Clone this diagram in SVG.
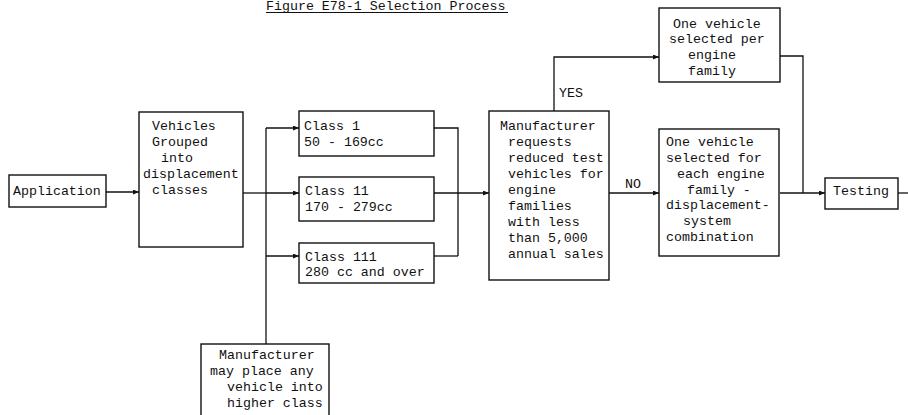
<svg xmlns="http://www.w3.org/2000/svg" width="908" height="415" viewBox="0 0 908 415">
<style>
  .box { fill: #ffffff; stroke: #111111; stroke-width: 1.4; }
  .t { font-family: "Liberation Mono", "Courier New", monospace; font-size: 13.3px; fill: #111111; }
  .c { fill: none; stroke: #111111; stroke-width: 1.3; }
</style>
<defs>
  <marker id="arr" markerUnits="userSpaceOnUse" markerWidth="7" markerHeight="6" refX="6" refY="2.5" orient="auto">
    <path d="M0,0 L6,2.5 L0,5 z" fill="#111111"/>
  </marker>
</defs>
<rect width="908" height="415" fill="#ffffff"/>

<g id="title">
  <text class="t" x="266" y="10">Figure E78-1 Selection Process</text>
  <line x1="266" y1="12.5" x2="508" y2="12.5" stroke="#111111" stroke-width="1.2"/>
</g>

<g id="connectors">
  <path class="c" d="M106,192 H139" marker-end="url(#arr)"/>
  <path class="c" d="M243,193 H266"/>
  <path class="c" d="M266,128 V344"/>
  <path class="c" d="M266,128 H299" marker-end="url(#arr)"/>
  <path class="c" d="M266,193 H299" marker-end="url(#arr)"/>
  <path class="c" d="M266,256 H299" marker-end="url(#arr)"/>
  <path class="c" d="M434,128 H458 V256"/>
  <path class="c" d="M434,256 H458"/>
  <path class="c" d="M434,193 H489" marker-end="url(#arr)"/>
  <path class="c" d="M554,111 V57 H659" marker-end="url(#arr)"/>
  <path class="c" d="M609,193 H659" marker-end="url(#arr)"/>
  <path class="c" d="M780,56 H803 V193"/>
  <path class="c" d="M780,193 H825" marker-end="url(#arr)"/>
  <path class="c" d="M898,193 H908"/>
  <text class="t" x="559" y="97">YES</text>
  <text class="t" x="625" y="188">NO</text>
</g>

<g id="application">
  <rect class="box" x="9" y="175" width="97" height="32"/>
  <text class="t" x="13" y="195">Application</text>
</g>

<g id="vehicles-grouped">
  <rect class="box" x="139" y="112" width="104" height="135"/>
  <text class="t" x="152" y="130">Vehicles</text>
  <text class="t" x="152" y="146">Grouped</text>
  <text class="t" x="161" y="162">into</text>
  <text class="t" x="143" y="178">displacement</text>
  <text class="t" x="152" y="194">classes</text>
</g>

<g id="class-1">
  <rect class="box" x="299" y="111" width="135" height="45"/>
  <text class="t" x="304" y="130">Class 1</text>
  <text class="t" x="304" y="146">50 - 169cc</text>
</g>

<g id="class-11">
  <rect class="box" x="299" y="177" width="135" height="44"/>
  <text class="t" x="305" y="195">Class 11</text>
  <text class="t" x="305" y="211">170 - 279cc</text>
</g>

<g id="class-111">
  <rect class="box" x="299" y="243" width="135" height="40"/>
  <text class="t" x="305" y="261">Class 111</text>
  <text class="t" x="305" y="276">280 cc and over</text>
</g>

<g id="manufacturer-requests">
  <rect class="box" x="489" y="111" width="120" height="169"/>
  <text class="t" x="500" y="130">Manufacturer</text>
  <text class="t" x="508" y="146">requests</text>
  <text class="t" x="508" y="162">reduced test</text>
  <text class="t" x="508" y="178">vehicles for</text>
  <text class="t" x="508" y="194">engine</text>
  <text class="t" x="508" y="210">families</text>
  <text class="t" x="508" y="226">with less</text>
  <text class="t" x="508" y="242">than 5,000</text>
  <text class="t" x="508" y="258">annual sales</text>
</g>

<g id="one-per-family">
  <rect class="box" x="659" y="8" width="121" height="74"/>
  <text class="t" x="673" y="28">One vehicle</text>
  <text class="t" x="669" y="43">selected per</text>
  <text class="t" x="688" y="59">engine</text>
  <text class="t" x="688" y="75">family</text>
</g>

<g id="one-per-combination">
  <rect class="box" x="659" y="129" width="120" height="127"/>
  <text class="t" x="666" y="146">One vehicle</text>
  <text class="t" x="666" y="162">selected for</text>
  <text class="t" x="677" y="178">each engine</text>
  <text class="t" x="687" y="194">family -</text>
  <text class="t" x="666" y="209">displacement-</text>
  <text class="t" x="683" y="225">system</text>
  <text class="t" x="666" y="241">combination</text>
</g>

<g id="testing">
  <rect class="box" x="825" y="178" width="73" height="31"/>
  <text class="t" x="833" y="195">Testing</text>
</g>

<g id="manufacturer-may-place">
  <rect class="box" x="201" y="344" width="128" height="80"/>
  <text class="t" x="219" y="359">Manufacturer</text>
  <text class="t" x="210" y="375">may place any</text>
  <text class="t" x="227" y="391">vehicle into</text>
  <text class="t" x="227" y="407">higher class</text>
</g>
</svg>
